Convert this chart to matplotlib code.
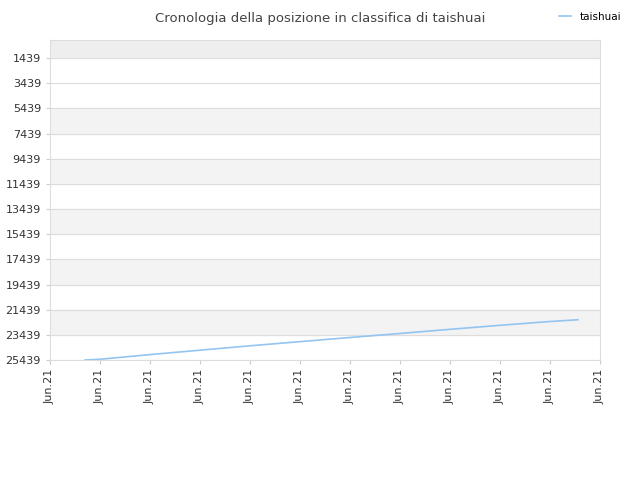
import matplotlib.pyplot as plt

days = [0.7, 1, 2, 3, 4, 5, 6, 7, 8, 9, 10, 10.56]
positions = [25439, 25380, 25010, 24660, 24310, 23980, 23650, 23330, 23000, 22680, 22380, 22239]
yticks = [1439 + 2000 * i for i in range(13)]
xlabels = ['Jun.21'] * 12

fig = plt.figure(figsize=(6.4, 4.8), dpi=100)
ax = fig.add_axes([50 / 640, 120 / 480, 550 / 640, 320 / 480])

ax.set_ylim(25439, 0)
ax.set_xlim(0, 11)
# alternating bands
ax.axhspan(0, 1439, color='#eeeeee', zorder=0)
for i in range(12):
    lo, hi = yticks[i], yticks[i + 1]
    if i % 2 == 0 and i >= 2:
        ax.axhspan(lo, hi, color='#f3f3f3', zorder=0)
for y in yticks:
    ax.axhline(y, color='#dddddd', lw=0.8, zorder=1)

ax.plot(days, positions, color='#92c5f0', lw=1.2, label='taishuai', zorder=3)

ax.set_yticks(yticks)
ax.set_yticklabels([str(v) for v in yticks], fontsize=8, color='#333333')
ax.set_xticks(range(12))
ax.set_xticklabels(xlabels, rotation=90, fontsize=8, color='#333333')
for s in ax.spines.values():
    s.set_color('#dddddd')
ax.tick_params(length=3, color='#cccccc')

fig.text(0.5, 0.975, 'Cronologia della posizione in classifica di taishuai',
         ha='center', va='top', fontsize=9.5, color='#444444')
fig.legend(loc='upper right', bbox_to_anchor=(0.985, 0.995), frameon=False,
           fontsize=7.5, handlelength=1.2)

fig.savefig('out.png')
